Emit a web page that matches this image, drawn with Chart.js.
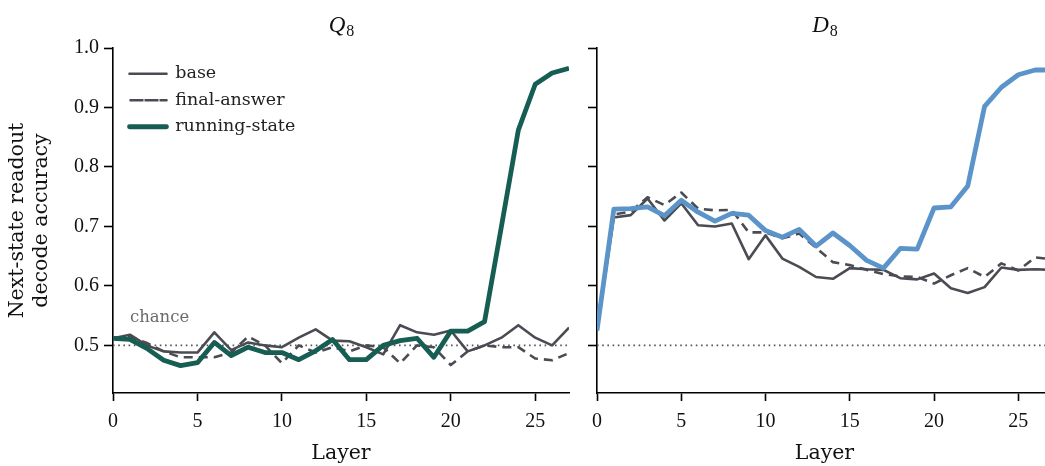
<!DOCTYPE html>
<html>
<head>
<meta charset="utf-8">
<script src="https://cdn.jsdelivr.net/npm/chart.js@4.4.1/dist/chart.umd.min.js"></script>
<style>
  html, body { margin: 0; padding: 0; background: #fff; overflow: hidden; width: 1045px; height: 466px; }
  .panel { position: absolute; top: 0; height: 466px; }
  #left { left: 0; width: 580px; }
  #right { left: 580px; width: 480px; }
</style>
</head>
<body>
<div class="panel" id="left"><canvas id="graficoQ8" width="580" height="466"></canvas></div>
<div class="panel" id="right"><canvas id="graficoD8" width="480" height="466"></canvas></div>
<script>
// Camadas (eixo X)
const layers = [0, 1, 2, 3, 4, 5, 6, 7, 8, 9, 10, 11, 12, 13, 14, 15, 16, 17, 18, 19, 20, 21, 22, 23, 24, 25, 26, 27];
const xTicks = [0, 5, 10, 15, 20, 25];
const yTicks = [0.5, 0.6, 0.7, 0.8, 0.9, 1.0];
const chance = 0.5;

// Q8
const q8Base = [0.512, 0.518, 0.500, 0.490, 0.488, 0.488, 0.522, 0.492, 0.505, 0.500, 0.497, 0.513, 0.527, 0.508, 0.507, 0.497, 0.485, 0.534, 0.522, 0.518, 0.525, 0.490, 0.500, 0.513, 0.534, 0.513, 0.500, 0.530];
const q8Final = [0.512, 0.515, 0.504, 0.490, 0.480, 0.480, 0.480, 0.488, 0.515, 0.500, 0.470, 0.500, 0.488, 0.497, 0.490, 0.500, 0.497, 0.470, 0.500, 0.497, 0.467, 0.490, 0.500, 0.497, 0.497, 0.478, 0.475, 0.487];
const q8Running = [0.512, 0.510, 0.495, 0.475, 0.466, 0.471, 0.505, 0.483, 0.497, 0.488, 0.488, 0.476, 0.491, 0.510, 0.476, 0.476, 0.500, 0.508, 0.512, 0.480, 0.524, 0.524, 0.540, 0.700, 0.862, 0.939, 0.958, 0.966];

// D8
const d8Base = [0.525, 0.715, 0.719, 0.747, 0.710, 0.739, 0.702, 0.700, 0.705, 0.645, 0.685, 0.646, 0.632, 0.615, 0.612, 0.630, 0.628, 0.627, 0.613, 0.611, 0.621, 0.596, 0.588, 0.598, 0.631, 0.627, 0.628, 0.627];
const d8Final = [0.525, 0.720, 0.725, 0.749, 0.736, 0.757, 0.730, 0.727, 0.728, 0.690, 0.690, 0.680, 0.688, 0.664, 0.640, 0.635, 0.627, 0.620, 0.616, 0.615, 0.604, 0.618, 0.630, 0.615, 0.638, 0.626, 0.648, 0.645];
const d8Running = [0.525, 0.729, 0.730, 0.733, 0.718, 0.744, 0.724, 0.709, 0.722, 0.719, 0.693, 0.682, 0.695, 0.667, 0.689, 0.668, 0.643, 0.630, 0.663, 0.662, 0.731, 0.733, 0.768, 0.902, 0.934, 0.955, 0.963, 0.963];

const NUM_FONT = "'Liberation Serif', serif";
const TXT_FONT = "'DejaVu Serif', serif";
const GRAY = '#4b4b53';

function pontos(valores) {
    return layers.map((x, i) => ({ x: x, y: valores[i] }));
}

// Título do painel: letra em itálico com índice
const tituloPainel = {
    id: 'tituloPainel',
    afterDraw(chart, args, opts) {
        const ctx = chart.ctx;
        const area = chart.chartArea;
        const cx = (area.left + area.right) / 2;
        ctx.save();
        ctx.fillStyle = '#111';
        ctx.textBaseline = 'alphabetic';
        ctx.font = 'italic 23px ' + NUM_FONT;
        const w1 = ctx.measureText(opts.text).width;
        ctx.font = '16px ' + NUM_FONT;
        const w2 = ctx.measureText(opts.sub).width;
        const x0 = cx - (w1 + w2) / 2;
        ctx.font = 'italic 23px ' + NUM_FONT;
        ctx.fillText(opts.text, x0, 32);
        ctx.font = '16px ' + NUM_FONT;
        ctx.fillText(opts.sub, x0 + w1 + 1, 36);
        ctx.restore();
    }
};

// Rótulo "chance" e posição da legenda
const rotuloChance = {
    id: 'rotuloChance',
    afterLayout(chart, args, opts) {
        if (chart.legend && opts.legendShift) {
            chart.legend.left = chart.chartArea.left + opts.legendShift[0];
            chart.legend.top = chart.chartArea.top + opts.legendShift[1];
        }
    },
    afterDatasetsDraw(chart, args, opts) {
        if (!opts.show) return;
        const ctx = chart.ctx;
        const x = chart.scales.x.getPixelForValue(1);
        const y = chart.scales.y.getPixelForValue(0.539);
        ctx.save();
        ctx.fillStyle = '#6b6b6b';
        ctx.font = '16.5px ' + TXT_FONT;
        ctx.textBaseline = 'alphabetic';
        ctx.fillText('chance', x, y);
        ctx.restore();
    }
};

function criarGrafico(id, base, final, running, cor, titulo, comEixo) {
    const ctx = document.getElementById(id).getContext('2d');
    new Chart(ctx, {
        type: 'line',
        data: {
            datasets: [
                { label: 'base', data: pontos(base), borderColor: GRAY, backgroundColor: 'rgba(0,0,0,0)', borderWidth: 2.6, order: 2 },
                { label: 'final-answer', data: pontos(final), borderColor: GRAY, backgroundColor: 'rgba(0,0,0,0)', borderWidth: 2.6, borderDash: [9, 6], order: 1 },
                { label: 'running-state', data: pontos(running), borderColor: cor, backgroundColor: 'rgba(0,0,0,0)', borderWidth: 4.8, order: 0 },
                { label: 'chance', data: [{ x: 0, y: chance }, { x: 27, y: chance }], borderColor: '#555', borderWidth: 1.6, borderDash: [1.6, 3.6], order: 3 }
            ]
        },
        options: {
            responsive: false,
            animation: false,
            devicePixelRatio: 1,
            layout: { padding: { left: 0, right: comEixo ? 11 : 8, top: 48, bottom: 0 } },
            elements: {
                point: { radius: 0 },
                line: { tension: 0, borderJoinStyle: 'round', borderCapStyle: 'butt', fill: false }
            },
            scales: {
                x: {
                    type: 'linear',
                    min: 0,
                    max: 27,
                    afterBuildTicks: s => { s.ticks = xTicks.map(v => ({ value: v })); },
                    afterFit: s => { s.height = 73; },
                    grid: { drawOnChartArea: false, drawTicks: true, tickLength: 8, tickColor: '#000', tickWidth: 1.6 },
                    border: { display: true, color: '#000', width: 1.6 },
                    ticks: { color: '#111', font: { family: NUM_FONT, size: 20 }, padding: 9, maxRotation: 0, callback: v => String(v) },
                    title: { display: true, text: 'Layer', color: '#111', font: { family: TXT_FONT, size: 20.5 }, padding: { top: 0, bottom: 0 } }
                },
                y: {
                    min: 0.42,
                    max: 1.0,
                    afterBuildTicks: s => { s.ticks = yTicks.map(v => ({ value: v })); },
                    afterFit: s => { s.width = comEixo ? 113 : 17; },
                    grid: { drawOnChartArea: false, drawTicks: true, tickLength: 9, tickColor: '#000', tickWidth: 1.6 },
                    border: { display: true, color: '#000', width: 1.6 },
                    ticks: { display: comEixo, color: '#111', font: { family: NUM_FONT, size: 20 }, padding: 5, callback: v => v.toFixed(1) },
                    title: {
                        display: comEixo,
                        text: ['Next-state readout', 'decode accuracy'],
                        color: '#111',
                        font: { family: TXT_FONT, size: 20.5, lineHeight: 1.2 },
                        padding: { top: 5, bottom: 0 }
                    }
                }
            },
            plugins: {
                legend: {
                    display: comEixo,
                    position: 'chartArea',
                    align: 'start',
                    labels: {
                        boxWidth: 37,
                        boxHeight: 0,
                        color: '#222',
                        padding: 9,
                        font: { family: TXT_FONT, size: 17.5 },
                        filter: item => item.text !== 'chance',
                        sort: (a, b) => a.datasetIndex - b.datasetIndex
                    }
                },
                tooltip: { enabled: false },
                tituloPainel: titulo,
                rotuloChance: { show: comEixo, legendShift: comEixo ? [7.5, 8] : null }
            }
        },
        plugins: [tituloPainel, rotuloChance]
    });
}

criarGrafico('graficoQ8', q8Base, q8Final, q8Running, '#165e53', { text: 'Q', sub: '8' }, true);
criarGrafico('graficoD8', d8Base, d8Final, d8Running, '#5b94c9', { text: 'D', sub: '8' }, false);
</script>
</body>
</html>
